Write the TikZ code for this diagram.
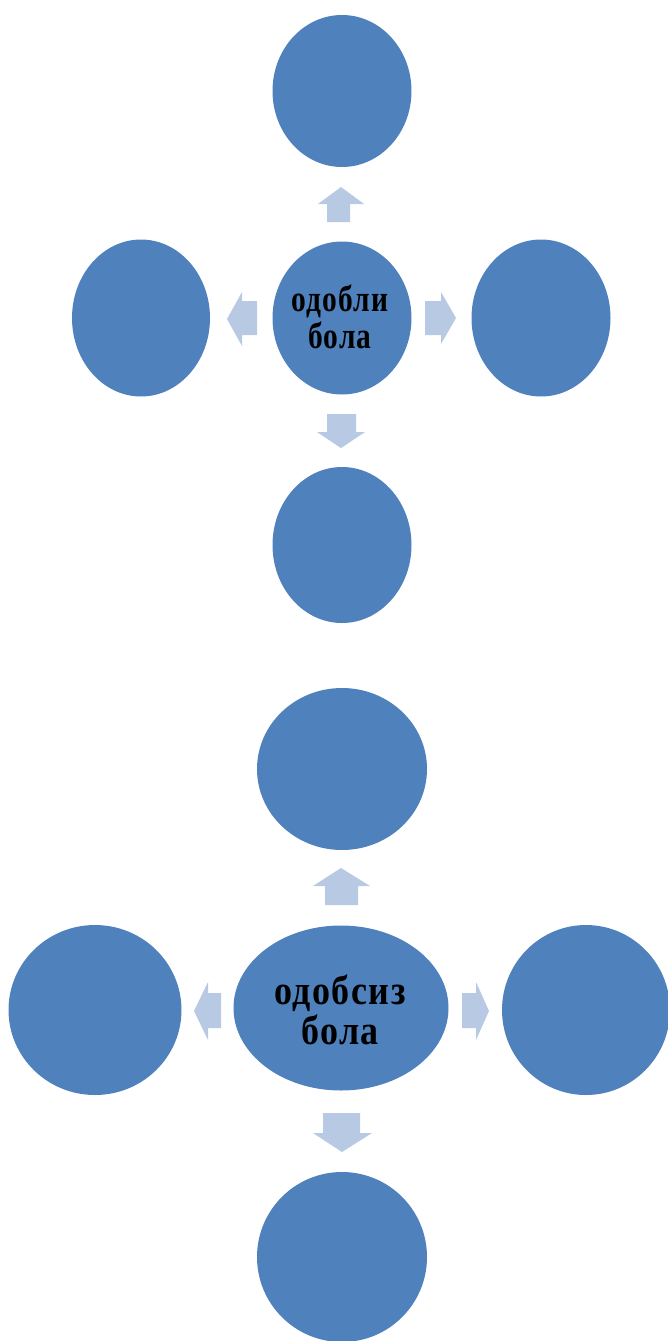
\documentclass[tikz,border=0pt]{standalone}
\usepackage{graphicx}
\usepackage{fontspec}
\setmainfont{Liberation Serif}
\usetikzlibrary{shapes.geometric}
\definecolor{blobblue}{HTML}{4F81BD}
\definecolor{arrowblue}{HTML}{B7C9E3}
\tikzset{
  blob/.style={ellipse, fill=blobblue, draw=none, inner sep=0pt},
  blockarrow/.style={fill=arrowblue, draw=none},
  textlabel/.style={inner sep=0pt, align=center, text=black}
}
\newcommand{\firstlabel}{\scalebox{0.95}[1.2]{\addfontfeatures{LetterSpace=4}\fontsize{31}{26.5}\selectfont\bfseries\shortstack{одобли\\бола}}}
\newcommand{\secondlabel}{\scalebox{1}[1.15]{\addfontfeatures{LetterSpace=4}\fontsize{36}{29}\selectfont\bfseries\shortstack{одобсиз\\бола}}}
\begin{document}
\begin{tikzpicture}[x=1pt,y=-1pt]
\useasboundingbox (0,0) rectangle (668,1341);
\begin{scope}
\clip (0,0) rectangle (668,1341);
% top group
\node[blob, minimum width=139pt, minimum height=152pt] (tA) at (342,91) {};
\node[blob, minimum width=139pt, minimum height=153pt] (tC) at (342,318) {};
\node[textlabel] (tT) at (340,317) {\firstlabel};
\node[blob, minimum width=138pt, minimum height=157pt] (tL) at (141,318) {};
\node[blob, minimum width=139pt, minimum height=157pt] (tR) at (541,318) {};
\node[blob, minimum width=139pt, minimum height=156pt] (tB) at (342,545) {};
% top arrows
\fill[blockarrow] (341,187) -- (364,204) -- (350,204) -- (350,222) -- (327,222) -- (327,204) -- (318,204) -- cycle;
\fill[blockarrow] (341,448) -- (365,432) -- (356,432) -- (356,414) -- (327,414) -- (327,432) -- (317,432) -- cycle;
\fill[blockarrow] (227,319) -- (242,292) -- (242,301) -- (257,301) -- (257,335) -- (242,335) -- (242,346) -- cycle;
\fill[blockarrow] (456,318) -- (441,292) -- (441,301) -- (425,301) -- (425,335) -- (441,335) -- (441,344) -- cycle;
% bottom group
\node[blob, minimum width=170pt, minimum height=162pt] (bA) at (342,769) {};
\node[blob, minimum width=215pt, minimum height=165pt] (bC) at (341,1008) {};
\node[textlabel] (bT) at (340,1010) {\secondlabel};
\node[blob, minimum width=173pt, minimum height=170pt] (bL) at (95,1010) {};
\node[blob, minimum width=168pt, minimum height=170pt] (bR) at (586,1010) {};
\node[blob, minimum width=170pt, minimum height=170pt] (bB) at (342,1257) {};
% bottom arrows
\fill[blockarrow] (341,868) -- (370,886) -- (358,886) -- (358,905) -- (325,905) -- (325,886) -- (313,886) -- cycle;
\fill[blockarrow] (342,1152) -- (372,1133) -- (360,1133) -- (360,1113) -- (323,1113) -- (323,1133) -- (313,1133) -- cycle;
\fill[blockarrow] (194,1011) -- (208,982) -- (208,993) -- (221,993) -- (221,1028) -- (208,1028) -- (208,1040) -- cycle;
\fill[blockarrow] (489,1011) -- (476,982) -- (476,993) -- (462,993) -- (462,1028) -- (476,1028) -- (476,1040) -- cycle;
\end{scope}
\end{tikzpicture}
\end{document}
